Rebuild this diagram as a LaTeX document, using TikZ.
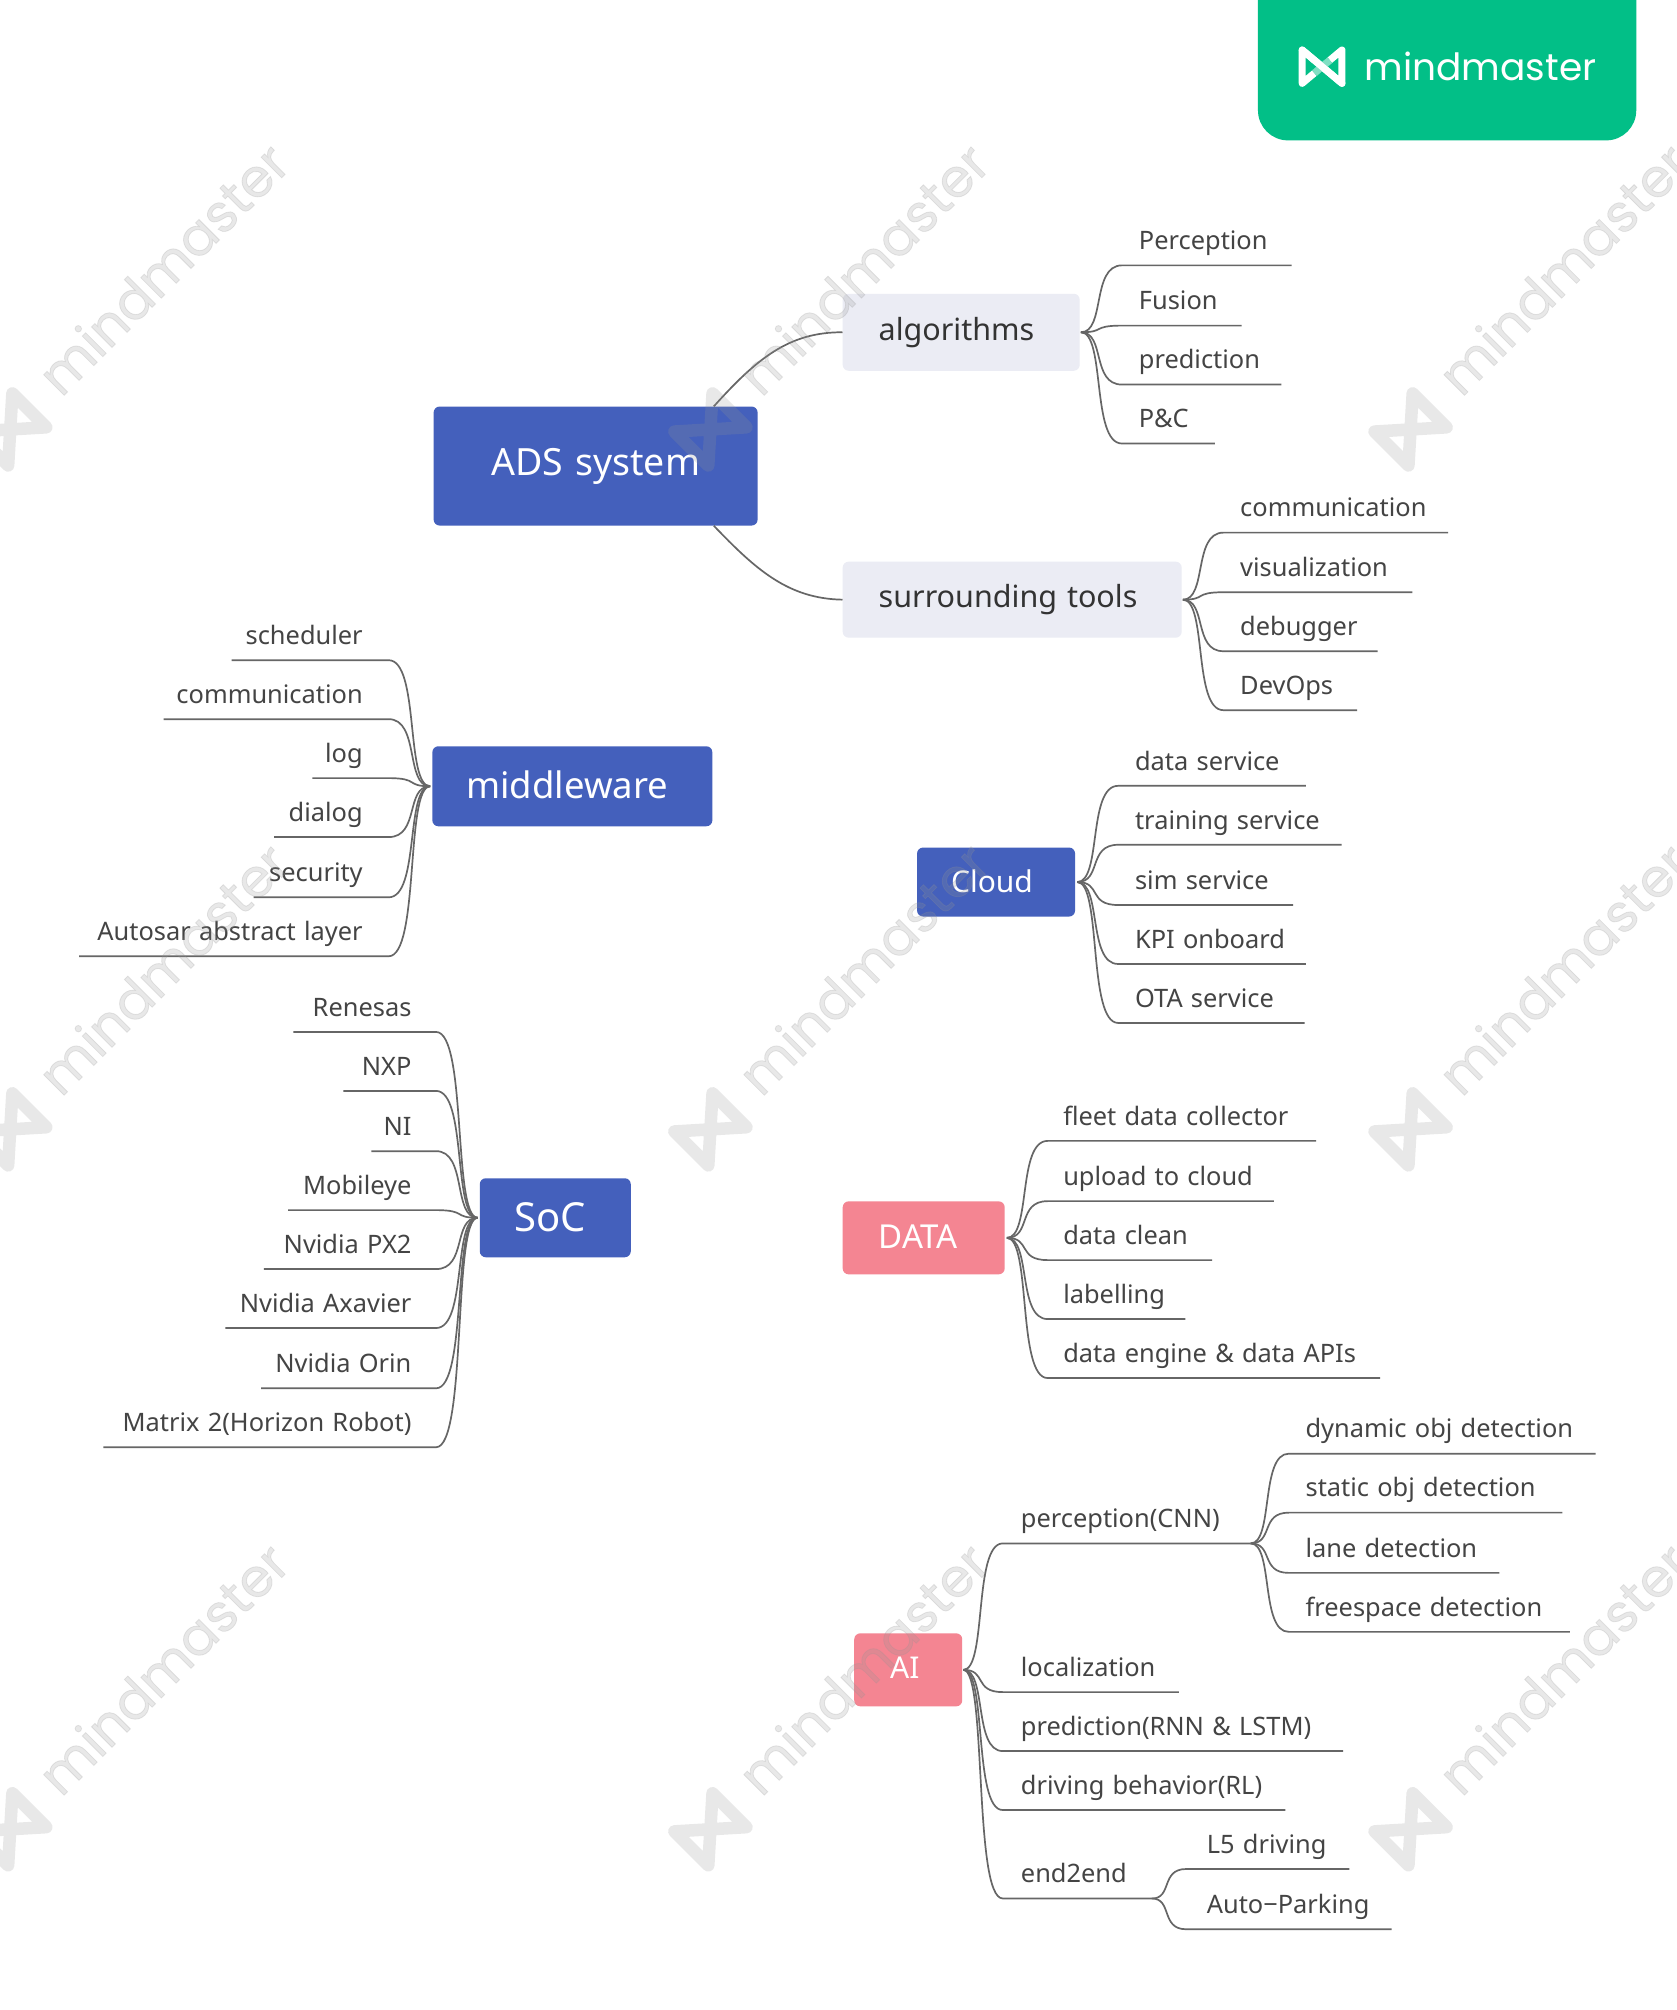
\documentclass[tikz,border=0pt]{standalone}
\usepackage{fontspec}
\setmainfont[WordSpace=1.25]{Noto Sans}
\newfontfamily\wmfont[FakeBold=1.5]{Poppins}
\newfontfamily\logofont{Poppins}
\usetikzlibrary{calc}
\definecolor{adsblue}{HTML}{4460BC}
\definecolor{softgrey}{HTML}{EBECF4}
\definecolor{softpink}{HTML}{F48592}
\definecolor{logogreen}{HTML}{02BF87}
\definecolor{inkdark}{HTML}{333333}
\definecolor{inkleaf}{HTML}{444444}
\definecolor{linegrey}{HTML}{666666}
\definecolor{wmgrey}{RGB}{148,148,148}
\tikzset{
  x=1.28233pt,y=-1.28189pt,
  link/.style={draw=linegrey,line width=1.7pt},
  topic/.style={rectangle,rounded corners=6pt,inner sep=0pt,anchor=north west},
  bluebox/.style={topic,fill=adsblue,text=white},
  greybox/.style={topic,fill=softgrey,text=inkdark},
  pinkbox/.style={topic,fill=softpink,text=white},
  leaf/.style={inner sep=0pt,text height=14pt,text depth=15.5pt,text=inkleaf,font=\fontsize{25.4}{30}\selectfont},
}
% \lfR{name}{parent anchor}{curve-end x}{line y}{line-end x}{text x}{text}
\newcommand{\lfR}[7]{%
  \pgfmathsetlengthmacro{\lfw}{(#5-#3)*1.28233pt}%
  \pgfmathsetlengthmacro{\lfo}{(#6-#3)*1.28233pt}%
  \node[leaf,anchor=south west] (#1) at (#3,#4) {\makebox[\lfw][l]{\hspace*{\lfo}#7}};
  \coordinate (ca) at ($(#2)!.6!(#1.south west)$);
  \coordinate (cb) at ($(#2)!.25!(#1.south west)$);
  \draw[link] (#2) .. controls (ca |- #2) and (cb |- #1.south west) .. (#1.south west) -- (#1.south east);
}
% \lfL{name}{parent anchor}{curve-end x}{line y}{line-end x}{text right x}{text}
\newcommand{\lfL}[7]{%
  \pgfmathsetlengthmacro{\lfw}{(#3-#5)*1.28233pt}%
  \pgfmathsetlengthmacro{\lfo}{(#3-#6)*1.28233pt}%
  \node[leaf,anchor=south east] (#1) at (#3,#4) {\makebox[\lfw][r]{#7\hspace*{\lfo}}};
  \coordinate (ca) at ($(#2)!.6!(#1.south east)$);
  \coordinate (cb) at ($(#2)!.25!(#1.south east)$);
  \draw[link] (#2) .. controls (ca |- #2) and (cb |- #1.south east) .. (#1.south east) -- (#1.south west);
}
% watermark tile
\newcommand{\wmtile}[2]{%
  \begin{scope}[shift={(#1,#2)},rotate=45,transform shape]
    \draw[wmgrey,draw opacity=.21,line width=12.5pt,line join=round,line cap=round]
      (-27pt,-24pt) -- (-27pt,24pt) -- (27pt,-24pt) -- (27pt,24pt) -- cycle;
    \node[anchor=base west,inner sep=0pt,text=wmgrey,text opacity=.21,font=\wmfont\fontsize{53}{53}\selectfont] (wm#1#2) at (58pt,-14pt) {mindmaster};
  \end{scope}
}
\begin{document}
\begin{tikzpicture}
\useasboundingbox (0,0) rectangle (1307,1568);
\fill[white] (0,0) rectangle (1307,1568);
% logo badge
\fill[logogreen,rounded corners=30pt] (981,-60) rectangle (1276,109.5);
\begin{scope}[shift={(1031,52)}]
  \draw[white,line width=7pt,line join=round,line cap=round] (-15.5,-13) -- (-15.5,13) -- (15.5,-13) -- (15.5,13) -- cycle;
  \draw[logogreen,line width=7pt] (-6,5) -- (6,-5);
  \draw[white!50!logogreen,line width=7pt] (-6,5) -- (6,-5);
  \draw[white,line width=7pt,line join=round,line cap=round] (-15.5,-13) -- (15.5,13);
\end{scope}
\node[anchor=west,inner sep=0pt,text=white,font=\logofont\fontsize{37.5}{40}\selectfont] (logotext) at (1064,52) {mindmaster};
% topics
\node[bluebox,minimum width=324pt,minimum height=119pt,font=\fontsize{37.5}{40}\selectfont] (ads) at (338,317) {\raisebox{2pt}{ADS system}};
\node[greybox,minimum width=237pt,minimum height=77pt,font=\fontsize{30.5}{36}\selectfont] (alg) at (657,229) {\makebox[237pt][l]{\hspace*{36pt}algorithms}};
\node[greybox,minimum width=339pt,minimum height=76pt,font=\fontsize{30.5}{36}\selectfont] (sur) at (657,438) {\makebox[339pt][l]{\hspace*{36pt}surrounding tools}};
\node[bluebox,minimum width=280pt,minimum height=80pt,font=\fontsize{36.5}{40}\selectfont] (mid) at (337,582) {\makebox[280pt][l]{\hspace*{34pt}\raisebox{2.5pt}{middleware}}};
\node[bluebox,minimum width=158pt,minimum height=69pt,font=\fontsize{30}{36}\selectfont] (cloud) at (715,661) {\makebox[158pt][l]{\hspace*{34pt}\raisebox{2.5pt}{Cloud}}};
\node[bluebox,minimum width=151pt,minimum height=79pt,font=\fontsize{40}{44}\selectfont] (soc) at (374,919) {\makebox[151pt][l]{\hspace*{35pt}\raisebox{2.5pt}{SoC}}};
\node[pinkbox,minimum width=162pt,minimum height=73pt,font=\fontsize{33}{36}\selectfont] (data) at (657,937) {\makebox[162pt][l]{\hspace*{36pt}\raisebox{2.5pt}{DATA}}};
\node[pinkbox,minimum width=108pt,minimum height=73pt,font=\fontsize{30}{36}\selectfont] (ai) at (666,1274) {\makebox[108pt][l]{\hspace*{36pt}\raisebox{3.5pt}{AI}}};
% main links
\coordinate (adsu) at ([xshift=-44pt]ads.north east);
\coordinate (adsd) at ([xshift=-44pt]ads.south east);
\draw[link] (adsu) .. controls (590,280) and (615,259) .. (alg.west);
\draw[link] (adsd) .. controls (590,445) and (615,467) .. (sur.west);
% hubs
\coordinate (halg) at ([xshift=1pt]alg.east);
\coordinate (hsur) at ([xshift=1pt]sur.east);
\coordinate (hmid) at ([xshift=-2pt]mid.west);
\coordinate (hsoc) at ([xshift=-2pt]soc.west);
\coordinate (hcloud) at ([xshift=2pt]cloud.east);
\coordinate (hdata) at ([xshift=2pt]data.east);
\coordinate (hai) at ([xshift=1pt]ai.east);
% algorithms
\lfR{a1}{halg}{875}{207}{1007}{888}{Perception}
\lfR{a2}{halg}{875}{254}{968}{888}{Fusion}
\lfR{a3}{halg}{875}{300}{999}{888}{prediction}
\lfR{a4}{halg}{875}{346}{947}{888}{P\&C}
% surrounding tools
\lfR{s1}{hsur}{954}{415.5}{1129}{967}{communication}
\lfR{s2}{hsur}{954}{462}{1101}{967}{visualization}
\lfR{s3}{hsur}{954}{508}{1074}{967}{debugger}
\lfR{s4}{hsur}{954}{554}{1058}{967}{DevOps}
% middleware
\lfL{m1}{hmid}{303}{515}{181}{283}{scheduler}
\lfL{m2}{hmid}{303}{561}{128}{283}{communication}
\lfL{m3}{hmid}{303}{607}{244}{283}{log}
\lfL{m4}{hmid}{303}{653}{214}{283}{dialog}
\lfL{m5}{hmid}{303}{700}{198}{283}{security}
\lfL{m6}{hmid}{303}{746}{62}{283}{Autosar abstract layer}
% SoC
\lfL{c1}{hsoc}{340}{805}{229}{321}{Renesas}
\lfL{c2}{hsoc}{340}{851}{268}{321}{NXP}
\lfL{c3}{hsoc}{340}{898}{290}{321}{NI}
\lfL{c4}{hsoc}{340}{944}{225}{321}{Mobileye}
\lfL{c5}{hsoc}{340}{990}{206}{321}{Nvidia PX2}
\lfL{c6}{hsoc}{340}{1036}{176}{321}{Nvidia Axavier}
\lfL{c7}{hsoc}{340}{1083}{204}{321}{Nvidia Orin}
\lfL{c8}{hsoc}{340}{1129}{81}{321}{Matrix 2(Horizon Robot)}
% Cloud
\lfR{k1}{hcloud}{872}{613}{1018}{885}{data service}
\lfR{k2}{hcloud}{872}{659}{1046}{885}{training service}
\lfR{k3}{hcloud}{872}{706}{1008}{885}{sim service}
\lfR{k4}{hcloud}{872}{752}{1018}{885}{KPI onboard}
\lfR{k5}{hcloud}{872}{798}{1017}{885}{OTA service}
% DATA
\lfR{d1}{hdata}{817}{890}{1026}{829}{fleet data collector}
\lfR{d2}{hdata}{817}{937}{993}{829}{upload to cloud}
\lfR{d3}{hdata}{817}{983}{945}{829}{data clean}
\lfR{d4}{hdata}{817}{1029}{924}{829}{labelling}
\lfR{d5}{hdata}{817}{1075}{1076}{829}{data engine \& data APIs}
% AI
\lfR{i1}{hai}{782}{1204}{975}{796}{perception(CNN)}
\lfR{i2}{hai}{782}{1320}{919}{796}{localization}
\lfR{i3}{hai}{782}{1366}{1047}{796}{prediction(RNN \& LSTM)}
\lfR{i4}{hai}{782}{1412}{1002}{796}{driving behavior(RL)}
\lfR{i5}{hai}{782}{1481}{898}{796}{end2end}
\lfR{p1}{i1.south east}{1005}{1134}{1244}{1018}{dynamic obj detection}
\lfR{p2}{i1.south east}{1005}{1180}{1218}{1018}{static obj detection}
\lfR{p3}{i1.south east}{1005}{1227}{1169}{1018}{lane detection}
\lfR{p4}{i1.south east}{1005}{1273}{1224}{1018}{freespace detection}
\lfR{e1}{i5.south east}{925}{1458}{1052}{941}{L5 driving}
\lfR{e2}{i5.south east}{925}{1505}{1085}{941}{Auto{\char"2212}Parking}
% watermark
\wmtile{8}{335}\wmtile{554}{335}\wmtile{1100}{335}
\wmtile{8}{881}\wmtile{554}{881}\wmtile{1100}{881}
\wmtile{8}{1427}\wmtile{554}{1427}\wmtile{1100}{1427}
\end{tikzpicture}
\end{document}
